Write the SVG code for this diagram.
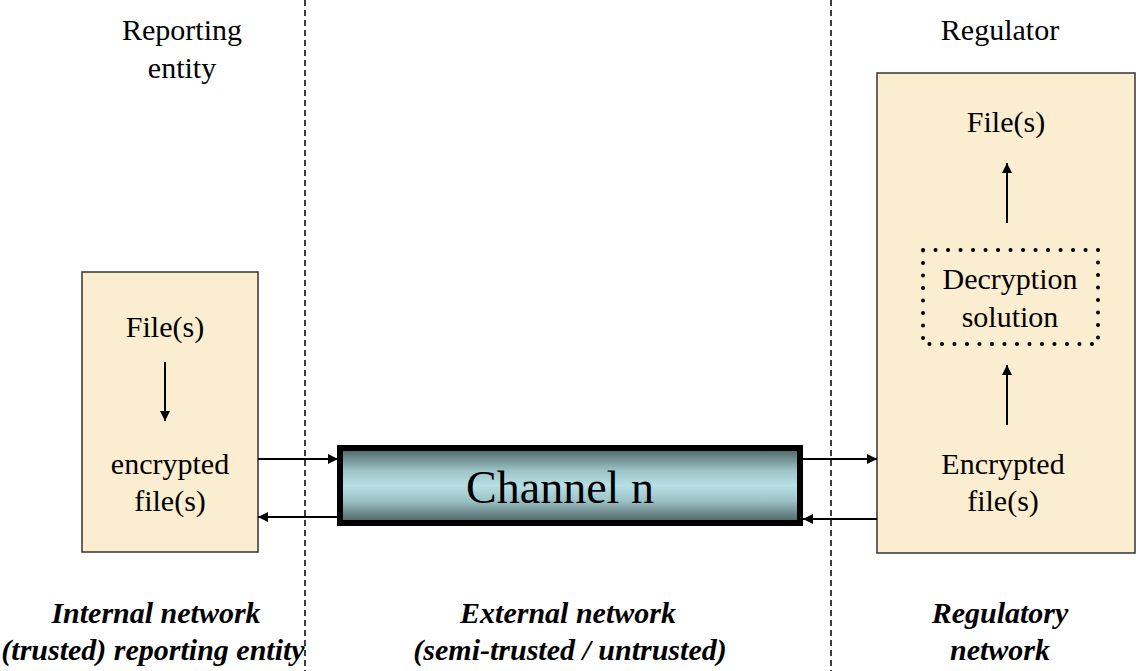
<svg xmlns="http://www.w3.org/2000/svg" width="1136" height="671" viewBox="0 0 1136 671">
<style>
text{font-family:"Liberation Serif","Times New Roman",serif;font-size:30px;fill:#000;text-anchor:middle}
.it{font-style:italic;font-weight:bold}
.box{fill:#FBEDCF;stroke:#333;stroke-width:1.5}
.sep{stroke:#000;stroke-width:1.5;stroke-dasharray:6 4}
.arr{stroke:#000;stroke-width:2;fill:none;marker-end:url(#ah)}
</style>
<defs>
<marker id="ah" viewBox="0 0 10 10" refX="10" refY="5" markerWidth="5" markerHeight="5" orient="auto" markerUnits="strokeWidth"><path d="M0,0 L10,5 L0,10 z" fill="#000"/></marker>
<linearGradient id="cg" x1="0" y1="0" x2="0" y2="1">
<stop offset="0" stop-color="#4a5f61"/>
<stop offset="0.3" stop-color="#9cc3c7"/>
<stop offset="0.5" stop-color="#b8e0e4"/>
<stop offset="0.7" stop-color="#9cc3c7"/>
<stop offset="1" stop-color="#4a5f61"/>
</linearGradient>
</defs>
<g id="separators">
<line class="sep" x1="305" y1="0" x2="305" y2="671"/>
<line class="sep" x1="831" y1="0" x2="831" y2="671"/>
</g>
<g id="reporting-entity">
<text x="182" y="40">Reporting</text>
<text x="182" y="78">entity</text>
<rect class="box" x="82" y="272" width="176" height="280"/>
<text x="165" y="337">File(s)</text>
<text x="170" y="474">encrypted</text>
<text x="170" y="511">file(s)</text>
</g>
<g id="regulator">
<text x="1000" y="40">Regulator</text>
<rect class="box" x="877" y="73" width="258" height="480"/>
<text x="1006" y="132">File(s)</text>
<text x="1003" y="474">Encrypted</text>
<text x="1003" y="511">file(s)</text>
</g>
<g id="decryption">
<rect x="923" y="250" width="175" height="94" fill="none" stroke="#000" stroke-width="4" stroke-linecap="round" stroke-dasharray="0.1 12.4"/>
<text x="1010" y="289">Decryption</text>
<text x="1010" y="327">solution</text>
</g>
<g id="channel">
<rect x="340" y="448" width="460" height="75" fill="url(#cg)" stroke="#000" stroke-width="6"/>
<text x="560" y="503" style="font-size:46px">Channel n</text>
</g>
<g id="connectors">
<line class="arr" x1="165" y1="362" x2="165" y2="421"/>
<line class="arr" x1="1007" y1="223" x2="1007" y2="163"/>
<line class="arr" x1="1007" y1="425" x2="1007" y2="365"/>
<line class="arr" x1="258" y1="459" x2="338" y2="459"/>
<line class="arr" x1="337" y1="517" x2="258" y2="517"/>
<line class="arr" x1="803" y1="459" x2="877" y2="459"/>
<line class="arr" x1="877" y1="519" x2="803" y2="519"/>
</g>
<g id="labels">
<text class="it" x="156" y="623">Internal network</text>
<text class="it" x="153" y="660">(trusted) reporting entity</text>
<text class="it" x="568" y="623">External network</text>
<text class="it" x="570" y="660">(semi-trusted / untrusted)</text>
<text class="it" x="1000" y="623">Regulatory</text>
<text class="it" x="1000" y="660">network</text>
</g>
</svg>
